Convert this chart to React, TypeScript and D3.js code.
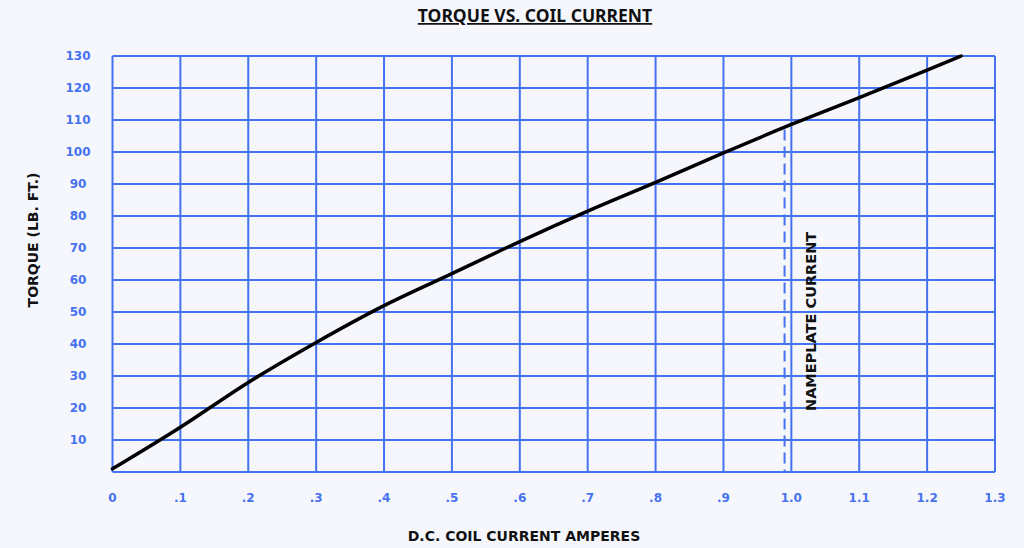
import * as d3 from "d3";

const currents = [0, 0.1, 0.2, 0.3, 0.4, 0.5, 0.6, 0.7, 0.8, 0.9, 1.0, 1.1, 1.2, 1.25];
const torques = [1, 14, 28, 40.5, 52, 62, 72, 81.5, 90.5, 99.7, 108.6, 117, 125.6, 130];
const xTicks = [0, 0.1, 0.2, 0.3, 0.4, 0.5, 0.6, 0.7, 0.8, 0.9, 1.0, 1.1, 1.2, 1.3];
const xTickLabels = ["0", ".1", ".2", ".3", ".4", ".5", ".6", ".7", ".8", ".9", "1.0", "1.1", "1.2", "1.3"];
const yTicks = [10, 20, 30, 40, 50, 60, 70, 80, 90, 100, 110, 120, 130];
const nameplateCurrent = 0.99;
const nameplateTop = 107;

const W = 1024;
const H = 548;
const left = 112.5;
const right = 995;
const top = 56;
const bottom = 472;
const grid = "#4672f0";
const wideFont = "'DejaVu Sans', Verdana, sans-serif";
const titleFont = "'Noto Sans', 'DejaVu Sans', sans-serif";

export default function App() {
  const x = d3.scaleLinear().domain([0, 1.3]).range([left, right]);
  const y = d3.scaleLinear().domain([0, 130]).range([bottom, top]);
  const pts = currents.map((c, i) => [c, torques[i]] as [number, number]);
  const line = d3
    .line<[number, number]>()
    .x((d) => x(d[0]))
    .y((d) => y(d[1]))
    .curve(d3.curveMonotoneX);

  return (
    <svg
      width={W}
      height={H}
      style={{ position: "absolute", left: 0, top: 0, display: "block" }}
    >
      <rect x={0} y={0} width={W} height={H} fill="#f5f7fd" />
      {/* title */}
      <text
        x={535}
        y={22}
        textAnchor="middle"
        fontFamily={titleFont}
        fontWeight="bold"
        fontSize={17.5}
        fill="#111"
        textDecoration="underline"
      >
        TORQUE VS. COIL CURRENT
      </text>

      {/* grid */}
      <g stroke={grid} strokeWidth={2} fill="none">
        {xTicks.map((t) => (
          <line key={"v" + t} x1={x(t)} x2={x(t)} y1={top} y2={bottom} />
        ))}
        {[0, ...yTicks].map((t) => (
          <line key={"h" + t} x1={left} x2={right} y1={y(t)} y2={y(t)} />
        ))}
      </g>

      {/* y tick labels */}
      <g fill={grid} fontFamily={wideFont} fontWeight="bold" fontSize={12} textAnchor="middle">
        {yTicks.map((t) => (
          <text key={t} x={78} y={y(t) + 4.3}>
            {t}
          </text>
        ))}
      </g>

      {/* x tick labels */}
      <g fill={grid} fontFamily={wideFont} fontWeight="bold" fontSize={12} textAnchor="middle">
        {xTicks.map((t, i) => (
          <text key={t} x={x(t)} y={501.5}>
            {xTickLabels[i]}
          </text>
        ))}
      </g>

      {/* nameplate marker */}
      <line
        x1={x(nameplateCurrent)}
        x2={x(nameplateCurrent)}
        y1={y(nameplateTop)}
        y2={bottom}
        stroke={grid}
        strokeWidth={2}
        strokeDasharray="11 6"
      />
      <text
        transform={`translate(${x(nameplateCurrent) + 31},${411}) rotate(-90)`}
        fontFamily={wideFont}
        fontWeight="bold"
        fontSize={14.5}
        fill="#111"
      >
        NAMEPLATE CURRENT
      </text>

      {/* curve */}
      <path d={line(pts) ?? ""} fill="none" stroke="#000" strokeWidth={3.5} strokeLinecap="round" />

      {/* axis titles */}
      <text
        x={524}
        y={541}
        textAnchor="middle"
        fontFamily={wideFont}
        fontWeight="bold"
        fontSize={14}
        fill="#111"
      >
        D.C. COIL CURRENT AMPERES
      </text>
      <text
        transform={`translate(38,${240}) rotate(-90)`}
        textAnchor="middle"
        fontFamily={wideFont}
        fontWeight="bold"
        fontSize={14}
        fill="#111"
      >
        TORQUE (LB. FT.)
      </text>
    </svg>
  );
}
